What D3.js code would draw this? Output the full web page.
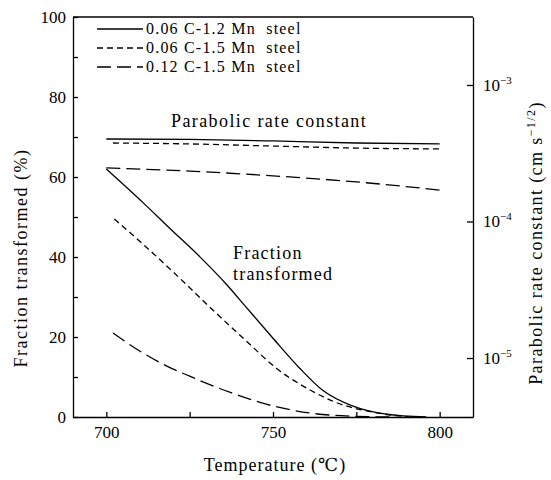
<!DOCTYPE html>
<html>
<head>
<meta charset="utf-8">
<script src="https://cdn.jsdelivr.net/npm/d3@7"></script>
<style>
  body { margin: 0; background: #fff; }
  svg { font-family: "Liberation Serif", "DejaVu Serif", serif; }
  .axis path, .axis line { stroke: #000; stroke-width: 1.3; }
  .axis text { font-size: 17px; fill: #000; font-family: "Liberation Serif", serif; }
</style>
</head>
<body>
<svg width="551" height="480"></svg>
<script>
// **** Data ****
var steels = ["0.06 C-1.2 Mn  steel", "0.06 C-1.5 Mn  steel", "0.12 C-1.5 Mn  steel"];

// fraction transformed (%) vs temperature
var fracSolidT = [700, 711, 719, 728, 736, 742, 750, 758, 765, 774, 784, 796];
var fracSolid = [62, 53.6, 47.2, 40.1, 33.2, 27.4, 19.7, 12.2, 6.6, 2.7, 0.7, 0];
var fracShortT = [702.4, 711, 720, 731, 742, 751, 761, 769, 780, 791];
var fracShort = [49.5, 43.2, 36.3, 27.5, 19, 12.2, 6.8, 3.6, 1.2, 0];
var fracLongT = [702, 710, 718, 725, 737, 748, 761, 774, 786];
var fracLong = [21, 16.5, 12.8, 10.2, 6.2, 3.2, 1, 0.2, 0];

// parabolic rate constant (cm s^-1/2) vs temperature
var rateSolidT = [700, 725, 750, 775, 800];
var rateSolid = [4.02e-4, 3.99e-4, 3.89e-4, 3.76e-4, 3.70e-4];
var rateShortT = [702, 725, 750, 775, 800];
var rateShort = [3.76e-4, 3.70e-4, 3.57e-4, 3.45e-4, 3.40e-4];
var rateLongT = [700, 725, 750, 775, 800];
var rateLong = [2.47e-4, 2.34e-4, 2.16e-4, 1.95e-4, 1.70e-4];

var tempTicks = [700, 725, 750, 775, 800];
var fracTicks = [0, 10, 20, 30, 40, 50, 60, 70, 80, 90, 100];
var rateTicks = [1e-5, 1e-4, 1e-3];
var rateTickExp = ["-5", "-4", "-3"];

var dashes = [null, "6,4", "14,6"];

// **** Scales and axes ****
var plotLeft = 73, plotRight = 473, plotTop = 17, plotBottom = 417;

var tempScale = d3.scaleLinear().domain([690, 810]).range([plotLeft, plotRight]);
var fracScale = d3.scaleLinear().domain([0, 100]).range([plotBottom, plotTop]);
var rateScale = d3.scaleLog().domain([Math.pow(10, -5.432), Math.pow(10, -2.502)]).range([plotBottom, plotTop]);

var svg = d3.select('svg');

// frame top line
svg.append('line')
    .attr('x1', plotLeft).attr('x2', plotRight)
    .attr('y1', plotTop).attr('y2', plotTop)
    .attr('stroke', '#000').attr('stroke-width', 1.3);

svg.append('g').attr('class', 'x axis')
    .attr('transform', 'translate(0,' + plotBottom + ')')
    .call(d3.axisBottom(tempScale).tickValues(tempTicks).tickSizeInner(-5).tickSizeOuter(0).tickPadding(9)
        .tickFormat(function (d) { return d % 50 === 0 ? d : ''; }));

svg.append('g').attr('class', 'y axis')
    .attr('transform', 'translate(' + plotLeft + ',0)')
    .call(d3.axisLeft(fracScale).tickValues(fracTicks).tickSizeInner(-5).tickSizeOuter(0).tickPadding(7)
        .tickFormat(function (d) { return d % 20 === 0 ? d : ''; }));

var rightAxis = svg.append('g').attr('class', 'y axis right')
    .attr('transform', 'translate(' + plotRight + ',0)')
    .call(d3.axisRight(rateScale).tickValues(rateTicks).tickSizeInner(-6).tickSizeOuter(0).tickPadding(10)
        .tickFormat(function () { return ''; }));

rightAxis.selectAll('.tick text').each(function (d, i) {
    var t = d3.select(this);
    t.append('tspan').text('10');
    t.append('tspan').attr('dy', -7).style('font-size', '11px').text('\u2212' + rateTickExp[i].slice(1));
});

// **** Curves ****
var line = d3.line()
    .x(function (d) { return tempScale(d[0]); })
    .curve(d3.curveMonotoneX);

function drawCurve(ts, vs, scale, dash) {
    svg.append('path')
        .datum(d3.zip(ts, vs))
        .attr('d', line.y(function (d) { return scale(d[1]); }))
        .attr('fill', 'none')
        .attr('stroke', '#000')
        .attr('stroke-width', 1.3)
        .attr('stroke-dasharray', dash);
}

drawCurve(fracSolidT, fracSolid, fracScale, dashes[0]);
drawCurve(fracShortT, fracShort, fracScale, dashes[1]);
drawCurve(fracLongT, fracLong, fracScale, dashes[2]);
drawCurve(rateSolidT, rateSolid, rateScale, dashes[0]);
drawCurve(rateShortT, rateShort, rateScale, dashes[1]);
drawCurve(rateLongT, rateLong, rateScale, dashes[2]);

// **** Legend ****
steels.forEach(function (s, i) {
    var y = 29 + i * 19;
    svg.append('line')
        .attr('x1', 97).attr('x2', 143)
        .attr('y1', y).attr('y2', y)
        .attr('stroke', '#000').attr('stroke-width', 1.3)
        .attr('stroke-dasharray', dashes[i]);
    svg.append('text')
        .attr('x', 146).attr('y', y + 5)
        .attr('font-size', 16)
        .attr('letter-spacing', 1.2)
        .style('white-space', 'pre')
        .text(s);
});

// **** Labels ****
svg.append('text')
    .attr('x', 171).attr('y', 127)
    .attr('font-size', 18)
    .attr('letter-spacing', 1.4)
    .text('Parabolic rate constant');

svg.append('text')
    .attr('x', 233).attr('y', 259)
    .attr('font-size', 18)
    .attr('letter-spacing', 1.2)
    .text('Fraction');

svg.append('text')
    .attr('x', 233).attr('y', 280)
    .attr('font-size', 18)
    .attr('letter-spacing', 1.2)
    .text('transformed');

svg.append('text')
    .attr('transform', 'translate(27, 258) rotate(-90)')
    .attr('text-anchor', 'middle')
    .attr('font-size', 18)
    .attr('letter-spacing', 1.5)
    .text('Fraction transformed (%)');

svg.append('text')
    .attr('x', 275).attr('y', 471)
    .attr('text-anchor', 'middle')
    .attr('font-size', 18)
    .attr('letter-spacing', 1)
    .text('Temperature (\u2103)');

var rl = svg.append('text')
    .attr('transform', 'translate(542, 243) rotate(-90)')
    .attr('text-anchor', 'middle')
    .attr('font-size', 18)
    .attr('letter-spacing', 1.4);
rl.append('tspan').text('Parabolic rate constant (cm s');
rl.append('tspan').attr('dy', -7).style('font-size', '12px').text('\u22121/2');
rl.append('tspan').attr('dy', 7).text(')');
</script>
</body>
</html>
